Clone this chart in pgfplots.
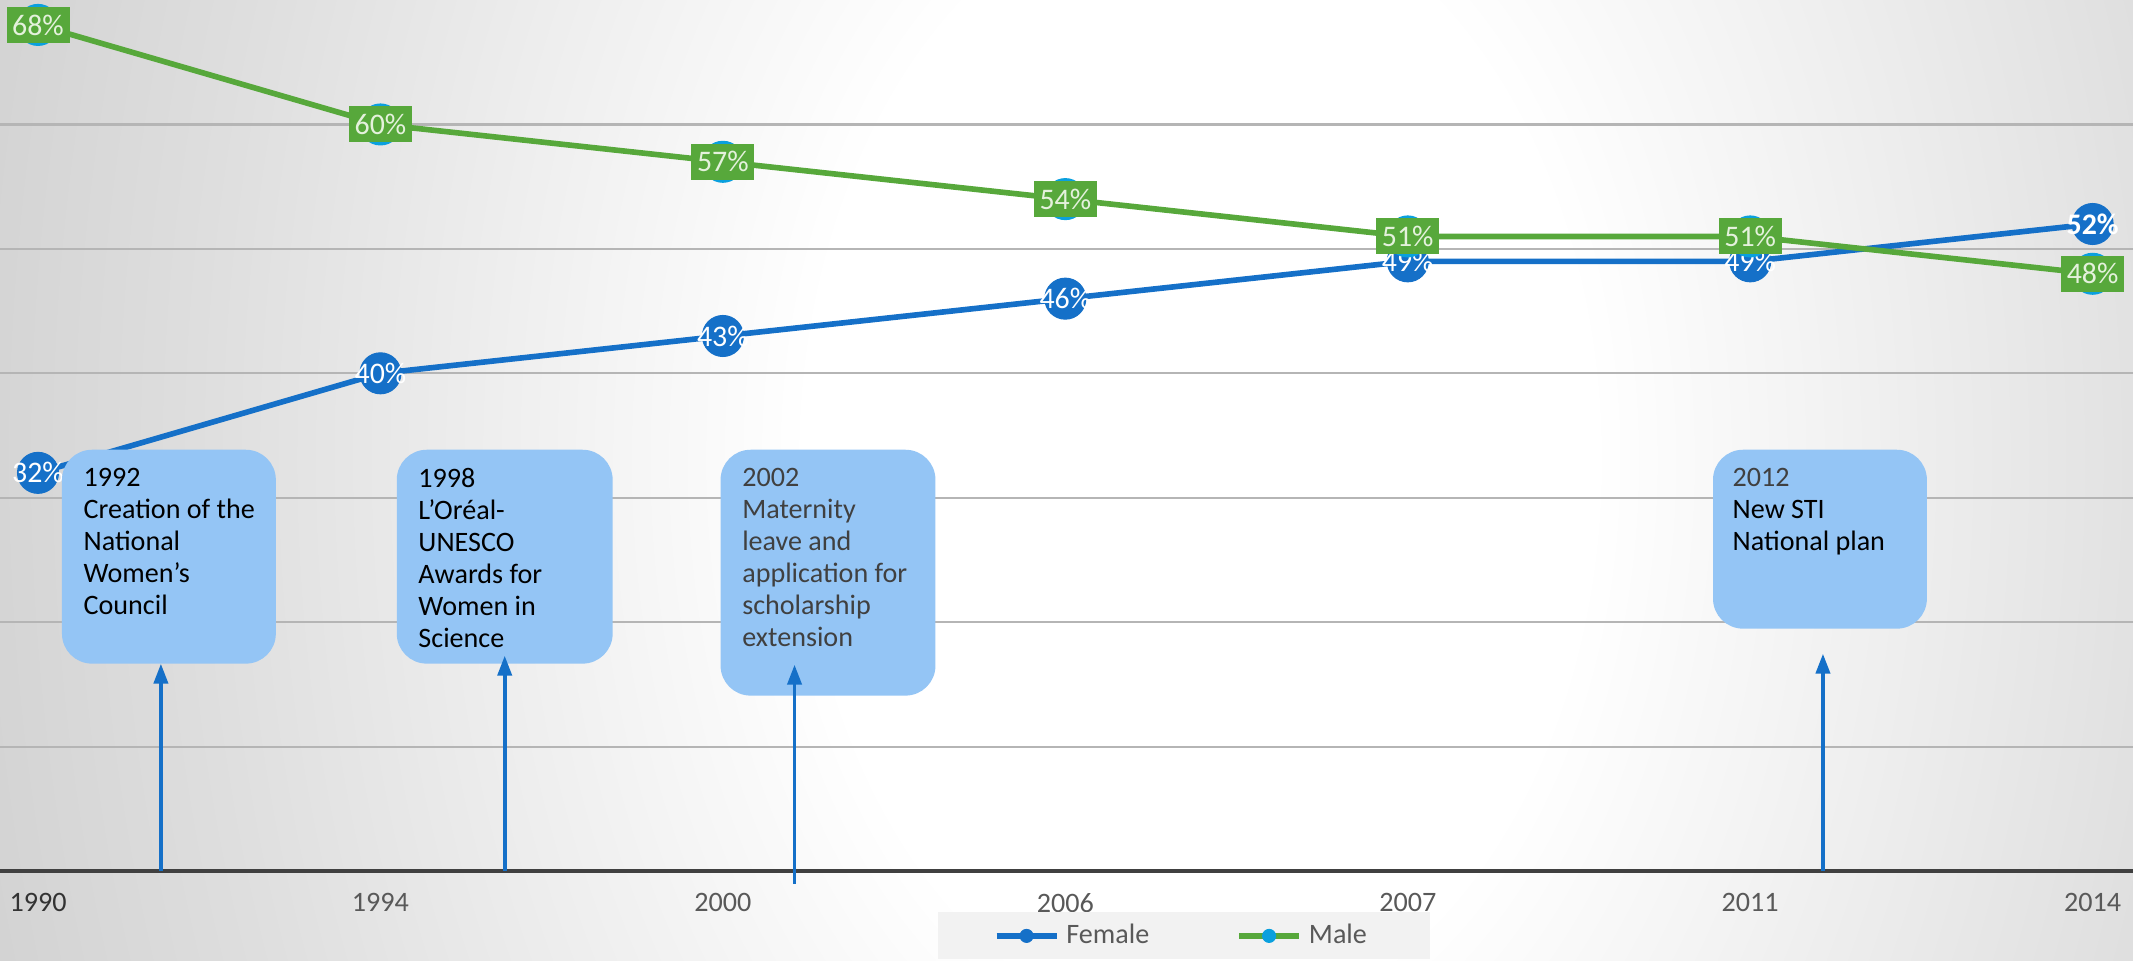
\documentclass[border=0pt]{standalone}
\usepackage{pgfplots}
\pgfplotsset{compat=1.18}
\usepackage{fontspec}
\setmainfont{Carlito}
\usetikzlibrary{arrows.meta}
\definecolor{fblue}{HTML}{1570C8}
\definecolor{mgreen}{HTML}{57A83B}
\definecolor{mlblue}{HTML}{0AA0DE}
\definecolor{boxblue}{HTML}{94C5F5}
\definecolor{gridc}{HTML}{B5B5B5}
\definecolor{ticktext}{HTML}{595959}
\definecolor{glabel}{HTML}{E4F1DC}
\pgfdeclareradialshading{bgshade}{\pgfpoint{0bp}{0bp}}{color(0bp)=(white); color(7bp)=(white); color(18bp)=(black!13); color(25bp)=(black!20); color(50bp)=(black!20)}

\begin{document}
\begin{tikzpicture}
\useasboundingbox (0,0) rectangle (21.33,9.6);
\fill[black!20] (0,0) rectangle (21.33,9.6);
\begin{scope}
\clip (0,0) rectangle (21.33,9.6);
\shade[shading=bgshade] (12.0,5.0) ellipse (14cm and 20cm);
\end{scope}
\begin{axis}[
  at={(0,0.89cm)}, anchor=south west,
  scale only axis, width=21.33cm, height=8.71cm,
  xmin=-0.111, xmax=6.118, ymin=0, ymax=70,
  axis lines=left,
  axis line style={-},
  x axis line style={-, draw=black!75, line width=1.2pt},
  y axis line style={draw=none},
  xtick={0,...,6},
  xticklabels={\textcolor{black!80}{1990},1994,2000,2006,2007,2011,2014},
  ytick={10,20,...,60}, yticklabels={},
  ymajorgrids, grid style={gridc, line width=0.6pt},
  major tick length=0pt,
  xticklabel style={font=\fontsize{8}{9}\selectfont, text=ticktext, anchor=north, inner sep=0pt, yshift=-2.2mm},
  clip=false,
  legend columns=2,
  legend style={at={(0.4393,-0.1022)}, anchor=south west, fill=black!5, draw=none,
    inner xsep=5.6mm, inner ysep=0.4mm, font=\fontsize{8}{9}\selectfont, text=ticktext,
    /tikz/every even column/.append style={column sep=8mm}},
  legend image code/.code={\draw[mark repeat=2,mark phase=2,#1,mark size=0.65mm] plot coordinates {(0cm,0cm) (0.3cm,0cm) (0.6cm,0cm)};},
]
\addplot[fblue, line width=1.6pt, mark=*, mark size=2.05mm, mark options={fill=fblue, draw=fblue, line width=0.3pt},
  point meta=explicit symbolic, nodes near coords,
  every node near coord/.append style={anchor=center, text=white, font=\fontsize{8.5}{9}\selectfont, inner sep=0pt}]
  coordinates {(0,32)[32\%] (1,40)[40\%] (2,43)[43\%] (3,46)[46\%] (4,49)[49\%] (5,49)[49\%] (6,52)[\textbf{52\%}]};
\addlegendentry{Female}
\addplot[mgreen, line width=1.6pt, mark=*, mark size=2.05mm, mark options={fill=mlblue, draw=mlblue, line width=0.3pt},
  point meta=explicit symbolic, nodes near coords,
  every node near coord/.append style={anchor=center, text=glabel, fill=mgreen, inner sep=0pt, minimum width=6.3mm, minimum height=3.6mm, font=\fontsize{8.5}{9}\selectfont}]
  coordinates {(0,68)[68\%] (1,60)[60\%] (2,57)[57\%] (3,54)[54\%] (4,51)[51\%] (5,51)[51\%] (6,48)[48\%]};
\addlegendentry{Male}
\end{axis}
\begin{scope}[x=0.01cm, y=-0.01cm, yshift=9.6cm]
\fill[boxblue, rounded corners=3mm] (62,450) rectangle (276,664);
\fill[boxblue, rounded corners=3mm] (397,450) rectangle (613,664);
\fill[boxblue, rounded corners=3mm] (721,450) rectangle (936,696);
\fill[boxblue, rounded corners=3mm] (1714,450) rectangle (1928,629);
\draw[fblue, line width=1.1pt, -{Triangle[length=2mm,width=1.4mm]}] (161,871) -- (161,664);
\draw[fblue, line width=1.1pt, -{Triangle[length=2mm,width=1.4mm]}] (505,871) -- (505,656);
\draw[fblue, line width=1.1pt, -{Triangle[length=2mm,width=1.4mm]}] (795,884) -- (795,665);
\draw[fblue, line width=1.1pt, -{Triangle[length=2mm,width=1.4mm]}] (1824,871) -- (1824,654);
\node[anchor=north west, inner sep=0pt, align=left, font=\fontsize{8}{9.1}\selectfont] at (83,468) {1992\\Creation of the\\National\\Women's\\Council};
\node[anchor=north west, inner sep=0pt, align=left, font=\fontsize{8}{9.1}\selectfont] at (418,468) {1998\\L’Oréal-\\UNESCO\\Awards for\\Women in\\Science};
\node[anchor=north west, inner sep=0pt, align=left, text=black!75, font=\fontsize{8}{9.1}\selectfont] at (742,468) {2002\\Maternity\\leave and\\application for\\scholarship\\extension};
\node[anchor=north west, inner sep=0pt, align=left, font=\fontsize{8}{9.1}\selectfont] at (1733,468) {\textcolor{black!75}{2012}\\New STI\\National plan};
\end{scope}
\end{tikzpicture}
\end{document}
